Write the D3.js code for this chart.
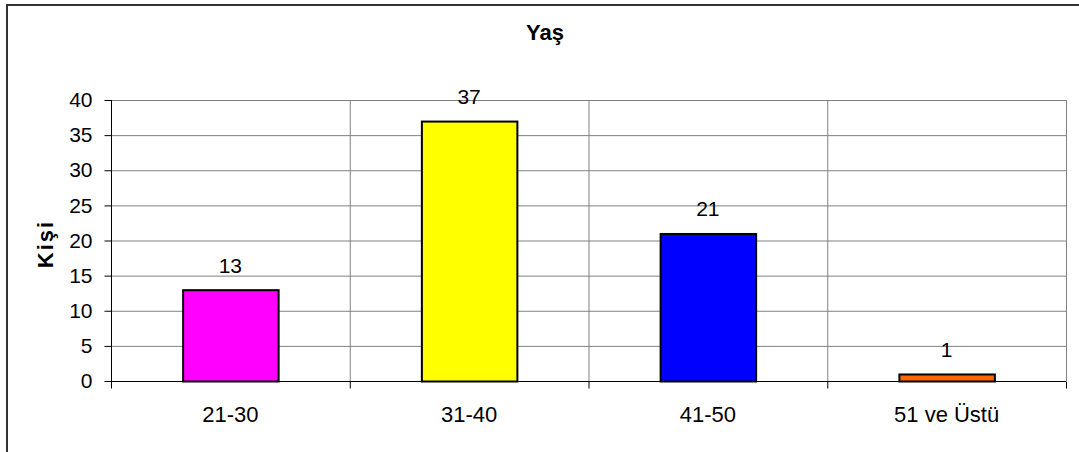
<!DOCTYPE html>
<html>
<head>
<meta charset="utf-8">
<script src="https://cdn.jsdelivr.net/npm/d3@7"></script>
<style>
  body { margin: 0; background: #fff; }
  text { font-family: "Liberation Sans", Arial, sans-serif; fill: #000; }
</style>
</head>
<body>
<svg width="1079" height="452"></svg>
<script>
// veriler
const categories = ["21-30", "31-40", "41-50", "51 ve Üstü"];
const values = [13, 37, 21, 1];
const colors = ["#ff00ff", "#ffff00", "#0000ff", "#ff6600"];
const yTicks = [0, 5, 10, 15, 20, 25, 30, 35, 40];

const svg = d3.select("svg");
const plotLeft = 111, plotRight = 1066, plotTop = 100, plotBottom = 381;

// dış çerçeve (sağ ve alt kenar görüntü dışında)
svg.append("rect")
  .attr("x", 7).attr("y", 5)
  .attr("width", 1090).attr("height", 470)
  .attr("fill", "none")
  .attr("stroke", "#333")
  .attr("stroke-width", 2);

const x = d3.scaleBand().domain(categories).range([plotLeft, plotRight]).paddingInner(0).paddingOuter(0);
const y = d3.scaleLinear().domain([0, 40]).range([plotBottom, plotTop]);

// yatay ızgara çizgileri
svg.append("g")
  .selectAll("line")
  .data(yTicks.slice(1))
  .join("line")
  .attr("x1", plotLeft).attr("x2", plotRight)
  .attr("y1", (d) => y(d) + 0.5).attr("y2", (d) => y(d) + 0.5)
  .attr("stroke", "#808080");

// dikey ızgara çizgileri (kategori sınırları)
svg.append("g")
  .selectAll("line")
  .data(categories.slice(1))
  .join("line")
  .attr("x1", (d) => x(d) + 0.5).attr("x2", (d) => x(d) + 0.5)
  .attr("y1", plotTop).attr("y2", plotBottom)
  .attr("stroke", "#808080");

// sağ çerçeve
svg.append("line")
  .attr("x1", plotRight + 0.5).attr("x2", plotRight + 0.5)
  .attr("y1", plotTop).attr("y2", plotBottom)
  .attr("stroke", "#808080");

// çubuklar
const bw = x.bandwidth() * 0.4;
svg.append("g")
  .selectAll("rect")
  .data(values)
  .join("rect")
  .attr("x", (d, i) => x(categories[i]) + x.bandwidth() / 2 - bw / 2 + 0.5)
  .attr("y", (d) => y(d) + 0.5)
  .attr("width", bw)
  .attr("height", (d) => plotBottom - y(d))
  .attr("fill", (d, i) => colors[i])
  .attr("stroke", "#000")
  .attr("stroke-width", 2);

// değer etiketleri
svg.append("g")
  .selectAll("text")
  .data(values)
  .join("text")
  .attr("x", (d, i) => x(categories[i]) + x.bandwidth() / 2)
  .attr("y", (d) => y(d) - 17)
  .attr("text-anchor", "middle")
  .attr("font-size", 21)
  .text((d) => d);

// y ekseni
const yAxis = svg.append("g")
  .attr("transform", `translate(${plotLeft + 0.5},0)`)
  .call(d3.axisLeft(y).tickValues(yTicks).tickSize(7).tickPadding(12));
yAxis.selectAll("path, line").attr("stroke", "#000");
yAxis.selectAll("text").attr("font-size", 21).attr("font-family", "Liberation Sans, Arial, sans-serif");
yAxis.select(".domain").attr("d", `M0,${plotTop}V${plotBottom}`);

// x ekseni
const xAxis = svg.append("g")
  .attr("transform", `translate(0,${plotBottom + 0.5})`)
  .call(d3.axisBottom(x).tickSize(0).tickPadding(25));
xAxis.select(".domain").attr("stroke", "#000").attr("d", `M${plotLeft},0H${plotRight}`);
xAxis.selectAll("text").attr("font-size", 22).attr("font-family", "Liberation Sans, Arial, sans-serif");
// kategori sınırlarında küçük işaretler
xAxis.append("g")
  .selectAll("line")
  .data([plotLeft, ...categories.slice(1).map((c) => x(c)), plotRight])
  .join("line")
  .attr("x1", (d) => d + 0.5).attr("x2", (d) => d + 0.5)
  .attr("y1", 0).attr("y2", 7)
  .attr("stroke", "#000");

// başlık
svg.append("text")
  .attr("x", 545).attr("y", 40)
  .attr("text-anchor", "middle")
  .attr("font-size", 22)
  .attr("font-weight", "bold")
  .text("Yaş");

// y ekseni başlığı
svg.append("text")
  .attr("transform", "translate(53,244) rotate(-90)")
  .attr("text-anchor", "middle")
  .attr("font-size", 22)
  .attr("font-weight", "bold")
  .attr("letter-spacing", 2)
  .text("Kişi");
</script>
</body>
</html>
